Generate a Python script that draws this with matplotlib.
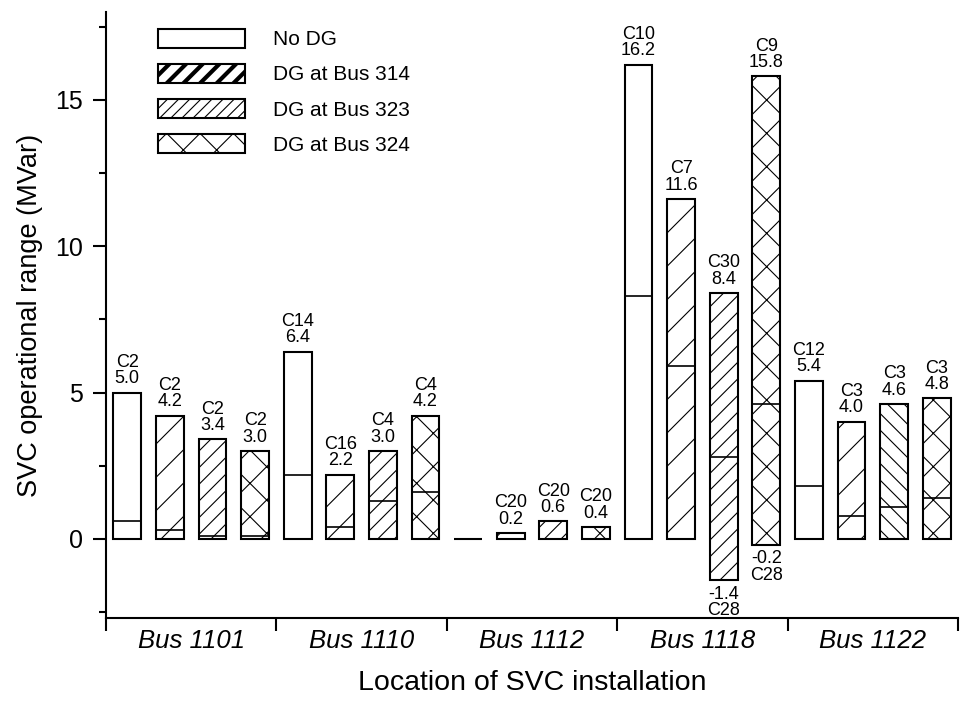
import numpy as np
import matplotlib
matplotlib.use("Agg")
import matplotlib.pyplot as plt
from matplotlib.patches import Patch

plt.rcParams["font.family"] = ["Liberation Sans", "DejaVu Sans"]
plt.rcParams["hatch.linewidth"] = 0.8

# locations (groups) and cases (series inside each group)
locations = ["Bus 1101", "Bus 1110", "Bus 1112", "Bus 1118", "Bus 1122"]
cases = ["No DG", "DG at Bus 314", "DG at Bus 323", "DG at Bus 324"]

# one entry per bar, group by group (4 bars per location)
upper = [5.0, 4.2, 3.4, 3.0,
         6.4, 2.2, 3.0, 4.2,
         0.0, 0.2, 0.6, 0.4,
         16.2, 11.6, 8.4, 15.8,
         5.4, 4.0, 4.6, 4.8]
lower = [0.0, 0.0, 0.0, 0.0,
         0.0, 0.0, 0.0, 0.0,
         0.0, 0.0, 0.0, 0.0,
         0.0, 0.0, -1.4, -0.2,
         0.0, 0.0, 0.0, 0.0]
middle = [0.6, 0.3, 0.1, 0.1,
          2.2, 0.4, 1.3, 1.6,
          0.0, 0.0, 0.0, 0.0,
          8.3, 5.9, 2.8, 4.6,
          1.8, 0.8, 1.1, 1.4]
upper_case = ["C2", "C2", "C2", "C2",
              "C14", "C16", "C4", "C4",
              "", "C20", "C20", "C20",
              "C10", "C7", "C30", "C9",
              "C12", "C3", "C3", "C3"]
lower_case = ["", "", "", "",
              "", "", "", "",
              "", "", "", "",
              "", "", "C28", "C28",
              "", "", "", ""]

# styles
bar_hatch = ["", "/", "//", "x"]
hatch_override = {18: "\\\\"}
legend_hatch = ["", "//", "///", "x"]

n_per = len(cases)
n_bars = len(upper)
x = np.arange(n_bars)
w = 0.65

fig = plt.figure(figsize=(9.74, 7.06), dpi=100)
ax = fig.add_axes([0.1088, 0.1246, 0.8748, 0.8584])

for i in range(n_bars):
    h = hatch_override.get(i, bar_hatch[i % n_per])
    ax.bar(x[i], upper[i] - lower[i], bottom=lower[i], width=w,
           color="white", edgecolor="black", linewidth=1.5, hatch=h, zorder=2)
    if upper[i] != lower[i]:
        ax.hlines(middle[i], x[i] - w / 2, x[i] + w / 2, color="black",
                  linewidth=1.2, zorder=3)
    if upper_case[i]:
        ax.annotate(f"{upper_case[i]}\n{upper[i]:.1f}", (x[i], upper[i]),
                    xytext=(0, 4), textcoords="offset points",
                    ha="center", va="bottom", fontsize=13, linespacing=0.95)
    if lower_case[i]:
        ax.annotate(f"{lower[i]:.1f}\n{lower_case[i]}", (x[i], lower[i]),
                    xytext=(0, -4), textcoords="offset points",
                    ha="center", va="top", fontsize=13, linespacing=0.95)

ax.set_xlim(-0.5, n_bars - 0.5)
ax.set_ylim(-2.7, 18.0)

# x: ticks at group borders, labels at group centers
ax.set_xticks(np.arange(-0.5, n_bars, n_per))
ax.set_xticklabels([])
ax.set_xticks(np.arange(len(locations)) * n_per + (n_per - 1) / 2, minor=True)
ax.set_xticklabels(locations, minor=True, fontsize=18.5, style="italic")
ax.tick_params(axis="x", which="major", direction="out", length=9, width=1.5)
ax.tick_params(axis="x", which="minor", length=0, pad=8)

ax.set_yticks([0, 5, 10, 15])
ax.set_yticks([-2.5, 2.5, 7.5, 12.5, 17.5], minor=True)
ax.tick_params(axis="y", which="major", direction="out", length=9.5, width=1.5,
               labelsize=18, pad=7)
ax.tick_params(axis="y", which="minor", direction="out", length=5, width=1.5)

for s in ["top", "right"]:
    ax.spines[s].set_visible(False)
for s in ["left", "bottom"]:
    ax.spines[s].set_linewidth(1.5)

ax.set_ylabel("SVC operational range (MVar)", fontsize=19.5, labelpad=9)
ax.set_xlabel("Location of SVC installation", fontsize=20.5, labelpad=12)

handles = [Patch(facecolor="white", edgecolor="black", linewidth=1.5, hatch=hh)
           for hh in legend_hatch]
leg = ax.legend(handles, cases, loc="upper left", bbox_to_anchor=(0.061, 0.972),
                frameon=False, fontsize=15, handlelength=4.2, handleheight=1.0,
                labelspacing=0.7, handletextpad=1.3, borderpad=0, borderaxespad=0)
thick = leg.get_patches()[1]
if hasattr(thick, "set_hatch_linewidth"):
    thick.set_hatch_linewidth(3.0)

fig.savefig("out.png", dpi=100)
